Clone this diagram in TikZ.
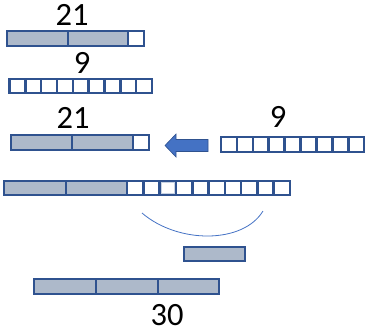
\documentclass[tikz,border=0pt]{standalone}
\usepackage{fontspec}
\setmainfont{Carlito}
\definecolor{barline}{HTML}{2F528F}
\definecolor{barfill}{HTML}{ADB9CA}
\definecolor{accent}{HTML}{4472C4}
\definecolor{lightedge}{HTML}{C9D3E3}
\tikzset{
  cellbox/.style={draw=barline, line width=2.6pt, fill=white},
  greybox/.style={draw=barline, line width=2.6pt, fill=barfill},
  numlabel/.style={inner sep=0pt, font=\fontsize{32.5}{32.5}\selectfont},
}
\begin{document}
\begin{tikzpicture}[x=1pt,y=-1pt]
\useasboundingbox (0,0) rectangle (369,330);
% row 1: 21
\draw[greybox] (7,31) rectangle (68,46);
\draw[greybox] (68,31) rectangle (128,46);
\draw[cellbox] (128,31) rectangle (144,46);
\node[numlabel] (l21a) at (72,15) {21};
% row 2: 9
\foreach \i in {0,...,8} {\draw[cellbox] ({9.5+15.83*\i},79) rectangle ({9.5+15.83*(\i+1)},93);}
\node[numlabel] (l9a) at (82,63) {9};
% row 3: 21
\draw[greybox] (11,135) rectangle (72,150);
\draw[greybox] (72,135) rectangle (133,150);
\draw[cellbox] (133,135) rectangle (149,150);
\node[numlabel] (l21b) at (73,118) {21};
% right 9
\foreach \i in {0,...,8} {\draw[cellbox] ({221+15.9*\i},137) rectangle ({221+15.9*(\i+1)},152);}
\node[numlabel] (l9b) at (278,117) {9};
% arrow
\draw[barline, line width=0.6pt, fill=accent] (165,145.5) -- (176,134) -- (176,139.5) -- (208,139.5) -- (208,151.5) -- (176,151.5) -- (176,157) -- cycle;
% row 4: 30
\draw[greybox] (4,181) rectangle (66,195);
\draw[greybox] (66,181) rectangle (127,195);
\foreach \i in {0,...,9} {\draw[cellbox] ({127+16.3*\i},181) rectangle ({127+16.3*(\i+1)},195);}
\draw[lightedge, line width=1.2pt] ({127+16.3*2+1.8},182.8) rectangle ({127+16.3*3-1.8},193.2);
% arc
\draw[accent, line width=0.8pt] (142,213) .. controls (178,244) and (243,244) .. (263,211);
% small grey bar
\draw[greybox] (184,247) rectangle (245,261);
% bottom bar
\draw[greybox] (34,279) rectangle (96,294);
\draw[greybox] (96,279) rectangle (158,294);
\draw[greybox] (158,279) rectangle (219,294);
\node[numlabel] (l30) at (167,315) {30};
\end{tikzpicture}
\end{document}
